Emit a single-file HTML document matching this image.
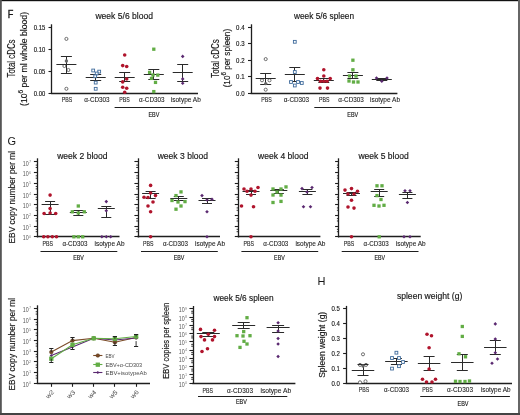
<!DOCTYPE html>
<html><head><meta charset="utf-8"><style>
html,body{margin:0;padding:0;background:#fff;width:520px;height:415px;overflow:hidden}
svg{display:block;font-family:"Liberation Sans",sans-serif;will-change:transform}
</style></head><body>
<svg width="520" height="415" viewBox="0 0 520 415">
<rect x="0" y="0" width="520" height="415" fill="white"/>
<text x="7.7" y="17.7" font-size="11.2" fill="#161616" text-anchor="start" stroke="#161616" stroke-width="0.4" textLength="5.6" lengthAdjust="spacingAndGlyphs">F</text>
<line x1="51.5" y1="24.3" x2="51.5" y2="93.9" stroke="#1e1e1e" stroke-width="1.3"/>
<line x1="51.15" y1="93.5" x2="198" y2="93.5" stroke="#1e1e1e" stroke-width="1.3"/>
<line x1="48.5" y1="27.5" x2="51.8" y2="27.5" stroke="#1e1e1e" stroke-width="1.1"/>
<text x="45.2" y="29.6" font-size="6.5" fill="#161616" text-anchor="end" stroke="#161616" stroke-width="0.15" textLength="11.4" lengthAdjust="spacingAndGlyphs">0.15</text>
<line x1="48.5" y1="49.5" x2="51.8" y2="49.5" stroke="#1e1e1e" stroke-width="1.1"/>
<text x="45.2" y="51.7" font-size="6.5" fill="#161616" text-anchor="end" stroke="#161616" stroke-width="0.15" textLength="11.4" lengthAdjust="spacingAndGlyphs">0.10</text>
<line x1="48.5" y1="71.5" x2="51.8" y2="71.5" stroke="#1e1e1e" stroke-width="1.1"/>
<text x="45.2" y="73.7" font-size="6.5" fill="#161616" text-anchor="end" stroke="#161616" stroke-width="0.15" textLength="11.4" lengthAdjust="spacingAndGlyphs">0.05</text>
<line x1="48.5" y1="93.5" x2="51.8" y2="93.5" stroke="#1e1e1e" stroke-width="1.1"/>
<text x="45.2" y="95.7" font-size="6.5" fill="#161616" text-anchor="end" stroke="#161616" stroke-width="0.15" textLength="11.4" lengthAdjust="spacingAndGlyphs">0.00</text>
<text x="124.2" y="18.9" font-size="9" fill="#161616" text-anchor="middle" stroke="#161616" stroke-width="0.16" textLength="57.6" lengthAdjust="spacingAndGlyphs">week 5/6 blood</text>
<text x="15.1" y="58.5" font-size="10" fill="#161616" text-anchor="middle" stroke="#161616" stroke-width="0.16" textLength="38" lengthAdjust="spacingAndGlyphs" transform="rotate(-90 15.1 58.5)">Total cDCs</text>
<text x="26.8" y="59" font-size="9.6" fill="#161616" text-anchor="middle" stroke="#161616" stroke-width="0.16" textLength="94" lengthAdjust="spacingAndGlyphs" transform="rotate(-90 26.8 59)">(10<tspan font-size="7.4" dy="-3.4">6</tspan><tspan dy="3.4"> per ml whole blood)</tspan></text>
<text x="67" y="101.8" font-size="7.2" fill="#222" text-anchor="middle" stroke="#222" stroke-width="0.1" textLength="10.5" lengthAdjust="spacingAndGlyphs">PBS</text>
<text x="96.9" y="101.8" font-size="7.2" fill="#222" text-anchor="middle" stroke="#222" stroke-width="0.1" textLength="25.5" lengthAdjust="spacingAndGlyphs">&#945;-CD303</text>
<text x="124.5" y="101.8" font-size="7.2" fill="#222" text-anchor="middle" stroke="#222" stroke-width="0.1" textLength="10.5" lengthAdjust="spacingAndGlyphs">PBS</text>
<text x="151.8" y="101.8" font-size="7.2" fill="#222" text-anchor="middle" stroke="#222" stroke-width="0.1" textLength="25.5" lengthAdjust="spacingAndGlyphs">&#945;-CD303</text>
<text x="185.8" y="101.8" font-size="7.2" fill="#222" text-anchor="middle" stroke="#222" stroke-width="0.1" textLength="30" lengthAdjust="spacingAndGlyphs">isotype Ab</text>
<line x1="114.6" y1="107.5" x2="192.3" y2="107.5" stroke="#1e1e1e" stroke-width="1.1"/>
<text x="153.9" y="116.8" font-size="7.4" fill="#161616" text-anchor="middle" stroke="#161616" stroke-width="0.16" textLength="10.9" lengthAdjust="spacingAndGlyphs">EBV</text>
<circle cx="66.4" cy="38.9" r="1.55" fill="white" stroke="#555555" stroke-width="0.85"/>
<circle cx="64.4" cy="66" r="1.55" fill="white" stroke="#555555" stroke-width="0.85"/>
<circle cx="68.4" cy="70" r="1.55" fill="white" stroke="#555555" stroke-width="0.85"/>
<circle cx="66.4" cy="88.8" r="1.55" fill="white" stroke="#555555" stroke-width="0.85"/>
<line x1="56.4" y1="64.5" x2="76.4" y2="64.5" stroke="#2a2a2a" stroke-width="1.0"/>
<line x1="60.9" y1="56.5" x2="71.9" y2="56.5" stroke="#2a2a2a" stroke-width="1.0"/>
<line x1="60.9" y1="73.5" x2="71.9" y2="73.5" stroke="#2a2a2a" stroke-width="1.0"/>
<line x1="66.5" y1="56.6" x2="66.5" y2="73.4" stroke="#2a2a2a" stroke-width="1.0"/>
<circle cx="66.4" cy="61" r="1.7" fill="#666" stroke="none" stroke-width="0"/>
<line x1="85.7" y1="77.5" x2="105.7" y2="77.5" stroke="#2a2a2a" stroke-width="1.0"/>
<line x1="90.2" y1="74.5" x2="101.2" y2="74.5" stroke="#2a2a2a" stroke-width="1.0"/>
<line x1="90.2" y1="80.5" x2="101.2" y2="80.5" stroke="#2a2a2a" stroke-width="1.0"/>
<line x1="95.5" y1="74.3" x2="95.5" y2="80.1" stroke="#2a2a2a" stroke-width="1.0"/>
<rect x="91.8" y="69.1" width="2.8" height="2.8" fill="white" stroke="#3f6b9c" stroke-width="0.9"/>
<rect x="97.8" y="70.2" width="2.8" height="2.8" fill="white" stroke="#3f6b9c" stroke-width="0.9"/>
<rect x="95.3" y="72.1" width="2.8" height="2.8" fill="white" stroke="#3f6b9c" stroke-width="0.9"/>
<rect x="93.8" y="74.9" width="2.8" height="2.8" fill="white" stroke="#3f6b9c" stroke-width="0.9"/>
<rect x="94.3" y="81.2" width="2.8" height="2.8" fill="white" stroke="#3f6b9c" stroke-width="0.9"/>
<rect x="94.3" y="87.4" width="2.8" height="2.8" fill="white" stroke="#3f6b9c" stroke-width="0.9"/>
<line x1="114.7" y1="77.5" x2="134.7" y2="77.5" stroke="#2a2a2a" stroke-width="1.0"/>
<line x1="119.2" y1="72.5" x2="130.2" y2="72.5" stroke="#2a2a2a" stroke-width="1.0"/>
<line x1="119.2" y1="81.5" x2="130.2" y2="81.5" stroke="#2a2a2a" stroke-width="1.0"/>
<line x1="124.5" y1="72.4" x2="124.5" y2="81.9" stroke="#2a2a2a" stroke-width="1.0"/>
<circle cx="124.7" cy="55" r="1.8" fill="#b0142c" stroke="none" stroke-width="0"/>
<circle cx="122.7" cy="65.6" r="1.8" fill="#b0142c" stroke="none" stroke-width="0"/>
<circle cx="126.7" cy="66.5" r="1.8" fill="#b0142c" stroke="none" stroke-width="0"/>
<circle cx="126.7" cy="79" r="1.8" fill="#b0142c" stroke="none" stroke-width="0"/>
<circle cx="122.7" cy="81.9" r="1.8" fill="#b0142c" stroke="none" stroke-width="0"/>
<circle cx="122.7" cy="87.2" r="1.8" fill="#b0142c" stroke="none" stroke-width="0"/>
<circle cx="126.7" cy="88.3" r="1.8" fill="#b0142c" stroke="none" stroke-width="0"/>
<circle cx="124.7" cy="92.2" r="1.8" fill="#b0142c" stroke="none" stroke-width="0"/>
<line x1="143.8" y1="74.5" x2="163.8" y2="74.5" stroke="#2a2a2a" stroke-width="1.0"/>
<line x1="148.3" y1="69.5" x2="159.3" y2="69.5" stroke="#2a2a2a" stroke-width="1.0"/>
<line x1="148.3" y1="79.5" x2="159.3" y2="79.5" stroke="#2a2a2a" stroke-width="1.0"/>
<line x1="153.5" y1="69.8" x2="153.5" y2="79.8" stroke="#2a2a2a" stroke-width="1.0"/>
<rect x="152.15" y="47.55" width="3.3" height="3.3" fill="#62ad45" stroke="none" stroke-width="0"/>
<rect x="147.95" y="70.75" width="3.3" height="3.3" fill="#62ad45" stroke="none" stroke-width="0"/>
<rect x="156.15" y="73.45" width="3.3" height="3.3" fill="#62ad45" stroke="none" stroke-width="0"/>
<rect x="151.35" y="73.35" width="3.3" height="3.3" fill="#62ad45" stroke="none" stroke-width="0"/>
<rect x="149.85" y="76.75" width="3.3" height="3.3" fill="#62ad45" stroke="none" stroke-width="0"/>
<rect x="153.85" y="80.75" width="3.3" height="3.3" fill="#62ad45" stroke="none" stroke-width="0"/>
<rect x="152.15" y="89.95" width="3.3" height="3.3" fill="#62ad45" stroke="none" stroke-width="0"/>
<line x1="172.7" y1="72.5" x2="192.7" y2="72.5" stroke="#2a2a2a" stroke-width="1.0"/>
<line x1="177.2" y1="64.5" x2="188.2" y2="64.5" stroke="#2a2a2a" stroke-width="1.0"/>
<line x1="177.2" y1="81.5" x2="188.2" y2="81.5" stroke="#2a2a2a" stroke-width="1.0"/>
<line x1="182.5" y1="64.6" x2="182.5" y2="81.2" stroke="#2a2a2a" stroke-width="1.0"/>
<path d="M182.7 54.6L184.5 56.4L182.7 58.2L180.9 56.4Z" fill="#5a2870"/>
<path d="M182.7 77.1L184.5 78.9L182.7 80.7L180.9 78.9Z" fill="#5a2870"/>
<path d="M182.7 81.5L184.5 83.3L182.7 85.1L180.9 83.3Z" fill="#5a2870"/>
<line x1="251.5" y1="24.3" x2="251.5" y2="93.9" stroke="#1e1e1e" stroke-width="1.3"/>
<line x1="250.65" y1="93.5" x2="397.4" y2="93.5" stroke="#1e1e1e" stroke-width="1.3"/>
<line x1="248" y1="27.5" x2="251.3" y2="27.5" stroke="#1e1e1e" stroke-width="1.1"/>
<text x="244.5" y="29.6" font-size="6.5" fill="#161616" text-anchor="end" stroke="#161616" stroke-width="0.15" textLength="8.4" lengthAdjust="spacingAndGlyphs">0.4</text>
<line x1="248" y1="43.5" x2="251.3" y2="43.5" stroke="#1e1e1e" stroke-width="1.1"/>
<text x="244.5" y="46.12" font-size="6.5" fill="#161616" text-anchor="end" stroke="#161616" stroke-width="0.15" textLength="8.4" lengthAdjust="spacingAndGlyphs">0.3</text>
<line x1="248" y1="60.5" x2="251.3" y2="60.5" stroke="#1e1e1e" stroke-width="1.1"/>
<text x="244.5" y="62.65" font-size="6.5" fill="#161616" text-anchor="end" stroke="#161616" stroke-width="0.15" textLength="8.4" lengthAdjust="spacingAndGlyphs">0.2</text>
<line x1="248" y1="76.5" x2="251.3" y2="76.5" stroke="#1e1e1e" stroke-width="1.1"/>
<text x="244.5" y="79.17" font-size="6.5" fill="#161616" text-anchor="end" stroke="#161616" stroke-width="0.15" textLength="8.4" lengthAdjust="spacingAndGlyphs">0.1</text>
<line x1="248" y1="93.5" x2="251.3" y2="93.5" stroke="#1e1e1e" stroke-width="1.1"/>
<text x="244.5" y="95.7" font-size="6.5" fill="#161616" text-anchor="end" stroke="#161616" stroke-width="0.15" textLength="8.4" lengthAdjust="spacingAndGlyphs">0.0</text>
<text x="324" y="18.9" font-size="9" fill="#161616" text-anchor="middle" stroke="#161616" stroke-width="0.16" textLength="60" lengthAdjust="spacingAndGlyphs">week 5/6 spleen</text>
<text x="218.5" y="58.5" font-size="10" fill="#161616" text-anchor="middle" stroke="#161616" stroke-width="0.16" textLength="38.3" lengthAdjust="spacingAndGlyphs" transform="rotate(-90 218.5 58.5)">Total cDCs</text>
<text x="229.9" y="58.1" font-size="9.6" fill="#161616" text-anchor="middle" stroke="#161616" stroke-width="0.16" textLength="58.5" lengthAdjust="spacingAndGlyphs" transform="rotate(-90 229.9 58.1)">(10<tspan font-size="7.4" dy="-3.4">6</tspan><tspan dy="3.4"> per spleen)</tspan></text>
<text x="266.4" y="101.8" font-size="7.2" fill="#222" text-anchor="middle" stroke="#222" stroke-width="0.1" textLength="10.5" lengthAdjust="spacingAndGlyphs">PBS</text>
<text x="296.4" y="101.8" font-size="7.2" fill="#222" text-anchor="middle" stroke="#222" stroke-width="0.1" textLength="25.5" lengthAdjust="spacingAndGlyphs">&#945;-CD303</text>
<text x="324.2" y="101.8" font-size="7.2" fill="#222" text-anchor="middle" stroke="#222" stroke-width="0.1" textLength="10.5" lengthAdjust="spacingAndGlyphs">PBS</text>
<text x="351.1" y="101.8" font-size="7.2" fill="#222" text-anchor="middle" stroke="#222" stroke-width="0.1" textLength="25.5" lengthAdjust="spacingAndGlyphs">&#945;-CD303</text>
<text x="385" y="101.8" font-size="7.2" fill="#222" text-anchor="middle" stroke="#222" stroke-width="0.1" textLength="30" lengthAdjust="spacingAndGlyphs">isotype Ab</text>
<line x1="314.3" y1="107.5" x2="391.7" y2="107.5" stroke="#1e1e1e" stroke-width="1.1"/>
<text x="352.8" y="116.8" font-size="7.4" fill="#161616" text-anchor="middle" stroke="#161616" stroke-width="0.16" textLength="10.9" lengthAdjust="spacingAndGlyphs">EBV</text>
<circle cx="265.7" cy="59.1" r="1.55" fill="white" stroke="#555555" stroke-width="0.85"/>
<circle cx="262" cy="80.3" r="1.55" fill="white" stroke="#555555" stroke-width="0.85"/>
<circle cx="269.5" cy="80.3" r="1.55" fill="white" stroke="#555555" stroke-width="0.85"/>
<circle cx="265.7" cy="89.7" r="1.55" fill="white" stroke="#555555" stroke-width="0.85"/>
<line x1="255.7" y1="78.5" x2="275.7" y2="78.5" stroke="#2a2a2a" stroke-width="1.0"/>
<line x1="260.2" y1="73.5" x2="271.2" y2="73.5" stroke="#2a2a2a" stroke-width="1.0"/>
<line x1="260.2" y1="84.5" x2="271.2" y2="84.5" stroke="#2a2a2a" stroke-width="1.0"/>
<line x1="265.5" y1="73.4" x2="265.5" y2="84.2" stroke="#2a2a2a" stroke-width="1.0"/>
<circle cx="265.7" cy="83.6" r="1.7" fill="#666" stroke="none" stroke-width="0"/>
<line x1="284.8" y1="74.5" x2="304.8" y2="74.5" stroke="#2a2a2a" stroke-width="1.0"/>
<line x1="289.3" y1="67.5" x2="300.3" y2="67.5" stroke="#2a2a2a" stroke-width="1.0"/>
<line x1="289.3" y1="81.5" x2="300.3" y2="81.5" stroke="#2a2a2a" stroke-width="1.0"/>
<line x1="294.5" y1="67.2" x2="294.5" y2="81.7" stroke="#2a2a2a" stroke-width="1.0"/>
<rect x="293.4" y="40.4" width="2.8" height="2.8" fill="white" stroke="#3f6b9c" stroke-width="0.9"/>
<rect x="293.4" y="70.6" width="2.8" height="2.8" fill="white" stroke="#3f6b9c" stroke-width="0.9"/>
<rect x="289.6" y="80.6" width="2.8" height="2.8" fill="white" stroke="#3f6b9c" stroke-width="0.9"/>
<rect x="296.6" y="80.6" width="2.8" height="2.8" fill="white" stroke="#3f6b9c" stroke-width="0.9"/>
<rect x="300.4" y="81.6" width="2.8" height="2.8" fill="white" stroke="#3f6b9c" stroke-width="0.9"/>
<rect x="293.4" y="84.1" width="2.8" height="2.8" fill="white" stroke="#3f6b9c" stroke-width="0.9"/>
<line x1="313.8" y1="80.5" x2="333.8" y2="80.5" stroke="#2a2a2a" stroke-width="1.0"/>
<line x1="318.3" y1="78.5" x2="329.3" y2="78.5" stroke="#2a2a2a" stroke-width="1.0"/>
<line x1="318.3" y1="82.5" x2="329.3" y2="82.5" stroke="#2a2a2a" stroke-width="1.0"/>
<line x1="323.5" y1="78.4" x2="323.5" y2="82.4" stroke="#2a2a2a" stroke-width="1.0"/>
<circle cx="323.8" cy="69.8" r="1.8" fill="#b0142c" stroke="none" stroke-width="0"/>
<circle cx="323.8" cy="76" r="1.8" fill="#b0142c" stroke="none" stroke-width="0"/>
<circle cx="317.5" cy="78.6" r="1.8" fill="#b0142c" stroke="none" stroke-width="0"/>
<circle cx="330.2" cy="78.6" r="1.8" fill="#b0142c" stroke="none" stroke-width="0"/>
<circle cx="320.5" cy="81.2" r="1.8" fill="#b0142c" stroke="none" stroke-width="0"/>
<circle cx="327" cy="81.2" r="1.8" fill="#b0142c" stroke="none" stroke-width="0"/>
<circle cx="323.8" cy="81.2" r="1.8" fill="#b0142c" stroke="none" stroke-width="0"/>
<circle cx="320" cy="88.1" r="1.8" fill="#b0142c" stroke="none" stroke-width="0"/>
<circle cx="327.5" cy="88.1" r="1.8" fill="#b0142c" stroke="none" stroke-width="0"/>
<line x1="342.9" y1="75.5" x2="362.9" y2="75.5" stroke="#2a2a2a" stroke-width="1.0"/>
<line x1="347.4" y1="72.5" x2="358.4" y2="72.5" stroke="#2a2a2a" stroke-width="1.0"/>
<line x1="347.4" y1="78.5" x2="358.4" y2="78.5" stroke="#2a2a2a" stroke-width="1.0"/>
<line x1="352.5" y1="72.4" x2="352.5" y2="78.4" stroke="#2a2a2a" stroke-width="1.0"/>
<rect x="351.25" y="58.55" width="3.3" height="3.3" fill="#62ad45" stroke="none" stroke-width="0"/>
<rect x="351.25" y="68.15" width="3.3" height="3.3" fill="#62ad45" stroke="none" stroke-width="0"/>
<rect x="347.85" y="74.35" width="3.3" height="3.3" fill="#62ad45" stroke="none" stroke-width="0"/>
<rect x="354.35" y="74.35" width="3.3" height="3.3" fill="#62ad45" stroke="none" stroke-width="0"/>
<rect x="347.35" y="79.35" width="3.3" height="3.3" fill="#62ad45" stroke="none" stroke-width="0"/>
<rect x="351.85" y="80.35" width="3.3" height="3.3" fill="#62ad45" stroke="none" stroke-width="0"/>
<rect x="356.35" y="80.35" width="3.3" height="3.3" fill="#62ad45" stroke="none" stroke-width="0"/>
<line x1="371.8" y1="79.5" x2="391.8" y2="79.5" stroke="#2a2a2a" stroke-width="1.0"/>
<line x1="376.3" y1="78.5" x2="387.3" y2="78.5" stroke="#2a2a2a" stroke-width="1.0"/>
<line x1="376.3" y1="80.5" x2="387.3" y2="80.5" stroke="#2a2a2a" stroke-width="1.0"/>
<line x1="381.5" y1="78.3" x2="381.5" y2="80.3" stroke="#2a2a2a" stroke-width="1.0"/>
<path d="M376.5 76.2L378.3 78L376.5 79.8L374.7 78Z" fill="#5a2870"/>
<path d="M381.8 79.4L383.6 81.2L381.8 83L380 81.2Z" fill="#5a2870"/>
<path d="M387 76.2L388.8 78L387 79.8L385.2 78Z" fill="#5a2870"/>
<text x="7.6" y="144.8" font-size="11" fill="#161616" text-anchor="start">G</text>
<line x1="37.5" y1="158.3" x2="37.5" y2="237.4" stroke="#1e1e1e" stroke-width="1.3"/>
<line x1="33.9" y1="161.5" x2="37.5" y2="161.5" stroke="#1e1e1e" stroke-width="1.1"/>
<text x="22.7" y="165.5" font-size="6.6" fill="#555" textLength="5.9" lengthAdjust="spacingAndGlyphs">10</text>
<text x="28.9" y="162.8" font-size="3.8" fill="#888">7</text>
<line x1="35.7" y1="167.49" x2="37.8" y2="167.49" stroke="#1e1e1e" stroke-width="0.9"/>
<line x1="35.7" y1="165.12" x2="37.8" y2="165.12" stroke="#1e1e1e" stroke-width="0.9"/>
<line x1="33.9" y1="172.5" x2="37.5" y2="172.5" stroke="#1e1e1e" stroke-width="1.1"/>
<text x="22.7" y="176.2" font-size="6.6" fill="#555" textLength="5.9" lengthAdjust="spacingAndGlyphs">10</text>
<text x="28.9" y="173.5" font-size="3.8" fill="#888">6</text>
<line x1="35.7" y1="178.19" x2="37.8" y2="178.19" stroke="#1e1e1e" stroke-width="0.9"/>
<line x1="35.7" y1="175.82" x2="37.8" y2="175.82" stroke="#1e1e1e" stroke-width="0.9"/>
<line x1="33.9" y1="183.5" x2="37.5" y2="183.5" stroke="#1e1e1e" stroke-width="1.1"/>
<text x="22.7" y="186.9" font-size="6.6" fill="#555" textLength="5.9" lengthAdjust="spacingAndGlyphs">10</text>
<text x="28.9" y="184.2" font-size="3.8" fill="#888">5</text>
<line x1="35.7" y1="188.89" x2="37.8" y2="188.89" stroke="#1e1e1e" stroke-width="0.9"/>
<line x1="35.7" y1="186.52" x2="37.8" y2="186.52" stroke="#1e1e1e" stroke-width="0.9"/>
<line x1="33.9" y1="194.5" x2="37.5" y2="194.5" stroke="#1e1e1e" stroke-width="1.1"/>
<text x="22.7" y="197.6" font-size="6.6" fill="#555" textLength="5.9" lengthAdjust="spacingAndGlyphs">10</text>
<text x="28.9" y="194.9" font-size="3.8" fill="#888">4</text>
<line x1="35.7" y1="199.59" x2="37.8" y2="199.59" stroke="#1e1e1e" stroke-width="0.9"/>
<line x1="35.7" y1="197.22" x2="37.8" y2="197.22" stroke="#1e1e1e" stroke-width="0.9"/>
<line x1="33.9" y1="204.5" x2="37.5" y2="204.5" stroke="#1e1e1e" stroke-width="1.1"/>
<text x="22.7" y="208.3" font-size="6.6" fill="#555" textLength="5.9" lengthAdjust="spacingAndGlyphs">10</text>
<text x="28.9" y="205.6" font-size="3.8" fill="#888">3</text>
<line x1="35.7" y1="210.29" x2="37.8" y2="210.29" stroke="#1e1e1e" stroke-width="0.9"/>
<line x1="35.7" y1="207.92" x2="37.8" y2="207.92" stroke="#1e1e1e" stroke-width="0.9"/>
<line x1="33.9" y1="215.5" x2="37.5" y2="215.5" stroke="#1e1e1e" stroke-width="1.1"/>
<text x="22.7" y="219" font-size="6.6" fill="#555" textLength="5.9" lengthAdjust="spacingAndGlyphs">10</text>
<text x="28.9" y="216.3" font-size="3.8" fill="#888">2</text>
<line x1="35.7" y1="220.99" x2="37.8" y2="220.99" stroke="#1e1e1e" stroke-width="0.9"/>
<line x1="35.7" y1="218.62" x2="37.8" y2="218.62" stroke="#1e1e1e" stroke-width="0.9"/>
<line x1="33.9" y1="226.5" x2="37.5" y2="226.5" stroke="#1e1e1e" stroke-width="1.1"/>
<text x="22.7" y="229.7" font-size="6.6" fill="#555" textLength="5.9" lengthAdjust="spacingAndGlyphs">10</text>
<text x="28.9" y="227" font-size="3.8" fill="#888">1</text>
<line x1="35.7" y1="231.69" x2="37.8" y2="231.69" stroke="#1e1e1e" stroke-width="0.9"/>
<line x1="35.7" y1="229.32" x2="37.8" y2="229.32" stroke="#1e1e1e" stroke-width="0.9"/>
<line x1="33.9" y1="236.5" x2="37.5" y2="236.5" stroke="#1e1e1e" stroke-width="1.1"/>
<text x="22.7" y="240.4" font-size="6.6" fill="#555" textLength="5.9" lengthAdjust="spacingAndGlyphs">10</text>
<text x="28.9" y="237.7" font-size="3.8" fill="#888">0</text>
<line x1="36.85" y1="236.5" x2="119.5" y2="236.5" stroke="#1e1e1e" stroke-width="1.3"/>
<text x="82.4" y="158.7" font-size="9" fill="#161616" text-anchor="middle" stroke="#161616" stroke-width="0.16" textLength="50.4" lengthAdjust="spacingAndGlyphs">week 2 blood</text>
<text x="47.8" y="246.3" font-size="7.2" fill="#222" text-anchor="middle" stroke="#222" stroke-width="0.1" textLength="10.5" lengthAdjust="spacingAndGlyphs">PBS</text>
<text x="74.9" y="246.3" font-size="7.2" fill="#222" text-anchor="middle" stroke="#222" stroke-width="0.1" textLength="25" lengthAdjust="spacingAndGlyphs">&#945;-CD303</text>
<text x="109.5" y="246.3" font-size="7.2" fill="#222" text-anchor="middle" stroke="#222" stroke-width="0.1" textLength="30" lengthAdjust="spacingAndGlyphs">isotype Ab</text>
<line x1="40.5" y1="251.5" x2="117.3" y2="251.5" stroke="#1e1e1e" stroke-width="1.1"/>
<text x="78.5" y="259.8" font-size="7.4" fill="#161616" text-anchor="middle" stroke="#161616" stroke-width="0.16" textLength="10.6" lengthAdjust="spacingAndGlyphs">EBV</text>
<line x1="41.6" y1="204.5" x2="58.6" y2="204.5" stroke="#2a2a2a" stroke-width="1.0"/>
<line x1="45.1" y1="201.5" x2="55.1" y2="201.5" stroke="#2a2a2a" stroke-width="1.0"/>
<line x1="45.1" y1="214.5" x2="55.1" y2="214.5" stroke="#2a2a2a" stroke-width="1.0"/>
<line x1="50.5" y1="201.6" x2="50.5" y2="214.6" stroke="#2a2a2a" stroke-width="1.0"/>
<circle cx="50.1" cy="195.1" r="1.8" fill="#b0142c" stroke="none" stroke-width="0"/>
<circle cx="50.1" cy="208.6" r="1.8" fill="#b0142c" stroke="none" stroke-width="0"/>
<circle cx="44.1" cy="213.5" r="1.8" fill="#b0142c" stroke="none" stroke-width="0"/>
<circle cx="55.7" cy="213.5" r="1.8" fill="#b0142c" stroke="none" stroke-width="0"/>
<circle cx="50.1" cy="213" r="1.8" fill="#b0142c" stroke="none" stroke-width="0"/>
<circle cx="43.7" cy="236.8" r="1.8" fill="#b0142c" stroke="none" stroke-width="0"/>
<circle cx="47.9" cy="236.8" r="1.8" fill="#b0142c" stroke="none" stroke-width="0"/>
<circle cx="52.3" cy="236.8" r="1.8" fill="#b0142c" stroke="none" stroke-width="0"/>
<circle cx="56.5" cy="236.8" r="1.8" fill="#b0142c" stroke="none" stroke-width="0"/>
<line x1="69.8" y1="212.5" x2="86.8" y2="212.5" stroke="#2a2a2a" stroke-width="1.0"/>
<line x1="73.3" y1="210.5" x2="83.3" y2="210.5" stroke="#2a2a2a" stroke-width="1.0"/>
<line x1="73.3" y1="215.5" x2="83.3" y2="215.5" stroke="#2a2a2a" stroke-width="1.0"/>
<line x1="78.5" y1="210.7" x2="78.5" y2="215.7" stroke="#2a2a2a" stroke-width="1.0"/>
<rect x="76.65" y="204.35" width="3.3" height="3.3" fill="#62ad45" stroke="none" stroke-width="0"/>
<rect x="70.65" y="210.15" width="3.3" height="3.3" fill="#62ad45" stroke="none" stroke-width="0"/>
<rect x="82.65" y="210.15" width="3.3" height="3.3" fill="#62ad45" stroke="none" stroke-width="0"/>
<rect x="76.65" y="211.35" width="3.3" height="3.3" fill="#62ad45" stroke="none" stroke-width="0"/>
<rect x="72.25" y="235.15" width="3.3" height="3.3" fill="#62ad45" stroke="none" stroke-width="0"/>
<rect x="76.65" y="235.15" width="3.3" height="3.3" fill="#62ad45" stroke="none" stroke-width="0"/>
<rect x="81.05" y="235.15" width="3.3" height="3.3" fill="#62ad45" stroke="none" stroke-width="0"/>
<line x1="97.8" y1="208.5" x2="114.8" y2="208.5" stroke="#2a2a2a" stroke-width="1.0"/>
<line x1="101.3" y1="206.5" x2="111.3" y2="206.5" stroke="#2a2a2a" stroke-width="1.0"/>
<line x1="101.3" y1="217.5" x2="111.3" y2="217.5" stroke="#2a2a2a" stroke-width="1.0"/>
<line x1="106.5" y1="206.4" x2="106.5" y2="217.9" stroke="#2a2a2a" stroke-width="1.0"/>
<path d="M106.3 199.8L108.1 201.6L106.3 203.4L104.5 201.6Z" fill="#5a2870"/>
<path d="M106.3 208.9L108.1 210.7L106.3 212.5L104.5 210.7Z" fill="#5a2870"/>
<path d="M101.9 235L103.7 236.8L101.9 238.6L100.1 236.8Z" fill="#5a2870"/>
<path d="M106.3 235L108.1 236.8L106.3 238.6L104.5 236.8Z" fill="#5a2870"/>
<path d="M110.7 235L112.5 236.8L110.7 238.6L108.9 236.8Z" fill="#5a2870"/>
<text x="14.6" y="197.2" font-size="9.2" fill="#161616" text-anchor="middle" stroke="#161616" stroke-width="0.16" textLength="92.5" lengthAdjust="spacingAndGlyphs" transform="rotate(-90 14.6 197.2)">EBV copy number per ml</text>
<line x1="138.5" y1="158.3" x2="138.5" y2="237.4" stroke="#1e1e1e" stroke-width="1.3"/>
<line x1="134.4" y1="161.5" x2="138" y2="161.5" stroke="#1e1e1e" stroke-width="1.1"/>
<line x1="136.2" y1="167.49" x2="138.3" y2="167.49" stroke="#1e1e1e" stroke-width="0.9"/>
<line x1="136.2" y1="165.12" x2="138.3" y2="165.12" stroke="#1e1e1e" stroke-width="0.9"/>
<line x1="134.4" y1="172.5" x2="138" y2="172.5" stroke="#1e1e1e" stroke-width="1.1"/>
<line x1="136.2" y1="178.19" x2="138.3" y2="178.19" stroke="#1e1e1e" stroke-width="0.9"/>
<line x1="136.2" y1="175.82" x2="138.3" y2="175.82" stroke="#1e1e1e" stroke-width="0.9"/>
<line x1="134.4" y1="183.5" x2="138" y2="183.5" stroke="#1e1e1e" stroke-width="1.1"/>
<line x1="136.2" y1="188.89" x2="138.3" y2="188.89" stroke="#1e1e1e" stroke-width="0.9"/>
<line x1="136.2" y1="186.52" x2="138.3" y2="186.52" stroke="#1e1e1e" stroke-width="0.9"/>
<line x1="134.4" y1="194.5" x2="138" y2="194.5" stroke="#1e1e1e" stroke-width="1.1"/>
<line x1="136.2" y1="199.59" x2="138.3" y2="199.59" stroke="#1e1e1e" stroke-width="0.9"/>
<line x1="136.2" y1="197.22" x2="138.3" y2="197.22" stroke="#1e1e1e" stroke-width="0.9"/>
<line x1="134.4" y1="204.5" x2="138" y2="204.5" stroke="#1e1e1e" stroke-width="1.1"/>
<line x1="136.2" y1="210.29" x2="138.3" y2="210.29" stroke="#1e1e1e" stroke-width="0.9"/>
<line x1="136.2" y1="207.92" x2="138.3" y2="207.92" stroke="#1e1e1e" stroke-width="0.9"/>
<line x1="134.4" y1="215.5" x2="138" y2="215.5" stroke="#1e1e1e" stroke-width="1.1"/>
<line x1="136.2" y1="220.99" x2="138.3" y2="220.99" stroke="#1e1e1e" stroke-width="0.9"/>
<line x1="136.2" y1="218.62" x2="138.3" y2="218.62" stroke="#1e1e1e" stroke-width="0.9"/>
<line x1="134.4" y1="226.5" x2="138" y2="226.5" stroke="#1e1e1e" stroke-width="1.1"/>
<line x1="136.2" y1="231.69" x2="138.3" y2="231.69" stroke="#1e1e1e" stroke-width="0.9"/>
<line x1="136.2" y1="229.32" x2="138.3" y2="229.32" stroke="#1e1e1e" stroke-width="0.9"/>
<line x1="134.4" y1="236.5" x2="138" y2="236.5" stroke="#1e1e1e" stroke-width="1.1"/>
<line x1="137.35" y1="236.5" x2="220" y2="236.5" stroke="#1e1e1e" stroke-width="1.3"/>
<text x="182.9" y="158.7" font-size="9" fill="#161616" text-anchor="middle" stroke="#161616" stroke-width="0.16" textLength="50.4" lengthAdjust="spacingAndGlyphs">week 3 blood</text>
<text x="148.3" y="246.3" font-size="7.2" fill="#222" text-anchor="middle" stroke="#222" stroke-width="0.1" textLength="10.5" lengthAdjust="spacingAndGlyphs">PBS</text>
<text x="175.4" y="246.3" font-size="7.2" fill="#222" text-anchor="middle" stroke="#222" stroke-width="0.1" textLength="25" lengthAdjust="spacingAndGlyphs">&#945;-CD303</text>
<text x="210" y="246.3" font-size="7.2" fill="#222" text-anchor="middle" stroke="#222" stroke-width="0.1" textLength="30" lengthAdjust="spacingAndGlyphs">isotype Ab</text>
<line x1="141" y1="251.5" x2="217.8" y2="251.5" stroke="#1e1e1e" stroke-width="1.1"/>
<text x="179" y="259.8" font-size="7.4" fill="#161616" text-anchor="middle" stroke="#161616" stroke-width="0.16" textLength="10.6" lengthAdjust="spacingAndGlyphs">EBV</text>
<line x1="142.1" y1="193.5" x2="159.1" y2="193.5" stroke="#2a2a2a" stroke-width="1.0"/>
<line x1="145.6" y1="191.5" x2="155.6" y2="191.5" stroke="#2a2a2a" stroke-width="1.0"/>
<line x1="145.6" y1="198.5" x2="155.6" y2="198.5" stroke="#2a2a2a" stroke-width="1.0"/>
<line x1="150.5" y1="191.2" x2="150.5" y2="198.2" stroke="#2a2a2a" stroke-width="1.0"/>
<circle cx="150.6" cy="185.4" r="1.8" fill="#b0142c" stroke="none" stroke-width="0"/>
<circle cx="150.6" cy="193" r="1.8" fill="#b0142c" stroke="none" stroke-width="0"/>
<circle cx="144" cy="197.3" r="1.8" fill="#b0142c" stroke="none" stroke-width="0"/>
<circle cx="155.5" cy="195.6" r="1.8" fill="#b0142c" stroke="none" stroke-width="0"/>
<circle cx="148" cy="197.5" r="1.8" fill="#b0142c" stroke="none" stroke-width="0"/>
<circle cx="153" cy="202" r="1.8" fill="#b0142c" stroke="none" stroke-width="0"/>
<circle cx="148" cy="206" r="1.8" fill="#b0142c" stroke="none" stroke-width="0"/>
<circle cx="150.6" cy="211.8" r="1.8" fill="#b0142c" stroke="none" stroke-width="0"/>
<circle cx="150.6" cy="236.8" r="1.8" fill="#b0142c" stroke="none" stroke-width="0"/>
<line x1="170.3" y1="198.5" x2="187.3" y2="198.5" stroke="#2a2a2a" stroke-width="1.0"/>
<line x1="173.8" y1="196.5" x2="183.8" y2="196.5" stroke="#2a2a2a" stroke-width="1.0"/>
<line x1="173.8" y1="200.5" x2="183.8" y2="200.5" stroke="#2a2a2a" stroke-width="1.0"/>
<line x1="178.5" y1="196.2" x2="178.5" y2="200.5" stroke="#2a2a2a" stroke-width="1.0"/>
<rect x="179.35" y="190.25" width="3.3" height="3.3" fill="#62ad45" stroke="none" stroke-width="0"/>
<rect x="174.35" y="193.95" width="3.3" height="3.3" fill="#62ad45" stroke="none" stroke-width="0"/>
<rect x="170.35" y="198.85" width="3.3" height="3.3" fill="#62ad45" stroke="none" stroke-width="0"/>
<rect x="183.35" y="199.95" width="3.3" height="3.3" fill="#62ad45" stroke="none" stroke-width="0"/>
<rect x="176.35" y="200.35" width="3.3" height="3.3" fill="#62ad45" stroke="none" stroke-width="0"/>
<rect x="179.35" y="204.35" width="3.3" height="3.3" fill="#62ad45" stroke="none" stroke-width="0"/>
<rect x="174.35" y="207.55" width="3.3" height="3.3" fill="#62ad45" stroke="none" stroke-width="0"/>
<line x1="198.5" y1="200.5" x2="215.5" y2="200.5" stroke="#2a2a2a" stroke-width="1.0"/>
<line x1="202" y1="198.5" x2="212" y2="198.5" stroke="#2a2a2a" stroke-width="1.0"/>
<line x1="202" y1="203.5" x2="212" y2="203.5" stroke="#2a2a2a" stroke-width="1.0"/>
<line x1="207.5" y1="198.4" x2="207.5" y2="203.1" stroke="#2a2a2a" stroke-width="1.0"/>
<path d="M202 193.8L203.8 195.6L202 197.4L200.2 195.6Z" fill="#5a2870"/>
<path d="M212 197.4L213.8 199.2L212 201L210.2 199.2Z" fill="#5a2870"/>
<path d="M207 198.2L208.8 200L207 201.8L205.2 200Z" fill="#5a2870"/>
<path d="M207 210L208.8 211.8L207 213.6L205.2 211.8Z" fill="#5a2870"/>
<path d="M207 235L208.8 236.8L207 238.6L205.2 236.8Z" fill="#5a2870"/>
<line x1="238.5" y1="158.3" x2="238.5" y2="237.4" stroke="#1e1e1e" stroke-width="1.3"/>
<line x1="234.8" y1="161.5" x2="238.4" y2="161.5" stroke="#1e1e1e" stroke-width="1.1"/>
<line x1="236.6" y1="167.49" x2="238.7" y2="167.49" stroke="#1e1e1e" stroke-width="0.9"/>
<line x1="236.6" y1="165.12" x2="238.7" y2="165.12" stroke="#1e1e1e" stroke-width="0.9"/>
<line x1="234.8" y1="172.5" x2="238.4" y2="172.5" stroke="#1e1e1e" stroke-width="1.1"/>
<line x1="236.6" y1="178.19" x2="238.7" y2="178.19" stroke="#1e1e1e" stroke-width="0.9"/>
<line x1="236.6" y1="175.82" x2="238.7" y2="175.82" stroke="#1e1e1e" stroke-width="0.9"/>
<line x1="234.8" y1="183.5" x2="238.4" y2="183.5" stroke="#1e1e1e" stroke-width="1.1"/>
<line x1="236.6" y1="188.89" x2="238.7" y2="188.89" stroke="#1e1e1e" stroke-width="0.9"/>
<line x1="236.6" y1="186.52" x2="238.7" y2="186.52" stroke="#1e1e1e" stroke-width="0.9"/>
<line x1="234.8" y1="194.5" x2="238.4" y2="194.5" stroke="#1e1e1e" stroke-width="1.1"/>
<line x1="236.6" y1="199.59" x2="238.7" y2="199.59" stroke="#1e1e1e" stroke-width="0.9"/>
<line x1="236.6" y1="197.22" x2="238.7" y2="197.22" stroke="#1e1e1e" stroke-width="0.9"/>
<line x1="234.8" y1="204.5" x2="238.4" y2="204.5" stroke="#1e1e1e" stroke-width="1.1"/>
<line x1="236.6" y1="210.29" x2="238.7" y2="210.29" stroke="#1e1e1e" stroke-width="0.9"/>
<line x1="236.6" y1="207.92" x2="238.7" y2="207.92" stroke="#1e1e1e" stroke-width="0.9"/>
<line x1="234.8" y1="215.5" x2="238.4" y2="215.5" stroke="#1e1e1e" stroke-width="1.1"/>
<line x1="236.6" y1="220.99" x2="238.7" y2="220.99" stroke="#1e1e1e" stroke-width="0.9"/>
<line x1="236.6" y1="218.62" x2="238.7" y2="218.62" stroke="#1e1e1e" stroke-width="0.9"/>
<line x1="234.8" y1="226.5" x2="238.4" y2="226.5" stroke="#1e1e1e" stroke-width="1.1"/>
<line x1="236.6" y1="231.69" x2="238.7" y2="231.69" stroke="#1e1e1e" stroke-width="0.9"/>
<line x1="236.6" y1="229.32" x2="238.7" y2="229.32" stroke="#1e1e1e" stroke-width="0.9"/>
<line x1="234.8" y1="236.5" x2="238.4" y2="236.5" stroke="#1e1e1e" stroke-width="1.1"/>
<line x1="237.75" y1="236.5" x2="320.4" y2="236.5" stroke="#1e1e1e" stroke-width="1.3"/>
<text x="283.3" y="158.7" font-size="9" fill="#161616" text-anchor="middle" stroke="#161616" stroke-width="0.16" textLength="50.4" lengthAdjust="spacingAndGlyphs">week 4 blood</text>
<text x="248.7" y="246.3" font-size="7.2" fill="#222" text-anchor="middle" stroke="#222" stroke-width="0.1" textLength="10.5" lengthAdjust="spacingAndGlyphs">PBS</text>
<text x="275.8" y="246.3" font-size="7.2" fill="#222" text-anchor="middle" stroke="#222" stroke-width="0.1" textLength="25" lengthAdjust="spacingAndGlyphs">&#945;-CD303</text>
<text x="310.4" y="246.3" font-size="7.2" fill="#222" text-anchor="middle" stroke="#222" stroke-width="0.1" textLength="30" lengthAdjust="spacingAndGlyphs">isotype Ab</text>
<line x1="241.4" y1="251.5" x2="318.2" y2="251.5" stroke="#1e1e1e" stroke-width="1.1"/>
<text x="279.4" y="259.8" font-size="7.4" fill="#161616" text-anchor="middle" stroke="#161616" stroke-width="0.16" textLength="10.6" lengthAdjust="spacingAndGlyphs">EBV</text>
<line x1="242.5" y1="191.5" x2="259.5" y2="191.5" stroke="#2a2a2a" stroke-width="1.0"/>
<line x1="246" y1="190.5" x2="256" y2="190.5" stroke="#2a2a2a" stroke-width="1.0"/>
<line x1="246" y1="194.5" x2="256" y2="194.5" stroke="#2a2a2a" stroke-width="1.0"/>
<line x1="251.5" y1="190" x2="251.5" y2="194" stroke="#2a2a2a" stroke-width="1.0"/>
<circle cx="244" cy="189" r="1.8" fill="#b0142c" stroke="none" stroke-width="0"/>
<circle cx="251" cy="189" r="1.8" fill="#b0142c" stroke="none" stroke-width="0"/>
<circle cx="258" cy="187.5" r="1.8" fill="#b0142c" stroke="none" stroke-width="0"/>
<circle cx="247" cy="191.2" r="1.8" fill="#b0142c" stroke="none" stroke-width="0"/>
<circle cx="255" cy="191.2" r="1.8" fill="#b0142c" stroke="none" stroke-width="0"/>
<circle cx="251" cy="195.1" r="1.8" fill="#b0142c" stroke="none" stroke-width="0"/>
<circle cx="241.5" cy="206" r="1.8" fill="#b0142c" stroke="none" stroke-width="0"/>
<circle cx="253.5" cy="206.8" r="1.8" fill="#b0142c" stroke="none" stroke-width="0"/>
<circle cx="251" cy="236.8" r="1.8" fill="#b0142c" stroke="none" stroke-width="0"/>
<line x1="270.3" y1="190.5" x2="287.3" y2="190.5" stroke="#2a2a2a" stroke-width="1.0"/>
<line x1="273.8" y1="189.5" x2="283.8" y2="189.5" stroke="#2a2a2a" stroke-width="1.0"/>
<line x1="273.8" y1="193.5" x2="283.8" y2="193.5" stroke="#2a2a2a" stroke-width="1.0"/>
<line x1="278.5" y1="189" x2="278.5" y2="193" stroke="#2a2a2a" stroke-width="1.0"/>
<rect x="284.35" y="185.25" width="3.3" height="3.3" fill="#62ad45" stroke="none" stroke-width="0"/>
<rect x="271.35" y="187.35" width="3.3" height="3.3" fill="#62ad45" stroke="none" stroke-width="0"/>
<rect x="279.35" y="187.35" width="3.3" height="3.3" fill="#62ad45" stroke="none" stroke-width="0"/>
<rect x="275.35" y="190.35" width="3.3" height="3.3" fill="#62ad45" stroke="none" stroke-width="0"/>
<rect x="271.35" y="193.35" width="3.3" height="3.3" fill="#62ad45" stroke="none" stroke-width="0"/>
<rect x="279.35" y="193.45" width="3.3" height="3.3" fill="#62ad45" stroke="none" stroke-width="0"/>
<rect x="271.35" y="200.85" width="3.3" height="3.3" fill="#62ad45" stroke="none" stroke-width="0"/>
<rect x="279.35" y="199.75" width="3.3" height="3.3" fill="#62ad45" stroke="none" stroke-width="0"/>
<line x1="298.9" y1="191.5" x2="315.9" y2="191.5" stroke="#2a2a2a" stroke-width="1.0"/>
<line x1="302.4" y1="189.5" x2="312.4" y2="189.5" stroke="#2a2a2a" stroke-width="1.0"/>
<line x1="302.4" y1="194.5" x2="312.4" y2="194.5" stroke="#2a2a2a" stroke-width="1.0"/>
<line x1="307.5" y1="189" x2="307.5" y2="194" stroke="#2a2a2a" stroke-width="1.0"/>
<path d="M302 186.8L303.8 188.6L302 190.4L300.2 188.6Z" fill="#5a2870"/>
<path d="M312 185.7L313.8 187.5L312 189.3L310.2 187.5Z" fill="#5a2870"/>
<path d="M307 190.2L308.8 192L307 193.8L305.2 192Z" fill="#5a2870"/>
<path d="M303.5 205L305.3 206.8L303.5 208.6L301.7 206.8Z" fill="#5a2870"/>
<path d="M310.5 205L312.3 206.8L310.5 208.6L308.7 206.8Z" fill="#5a2870"/>
<line x1="338.5" y1="158.3" x2="338.5" y2="237.4" stroke="#1e1e1e" stroke-width="1.3"/>
<line x1="335.1" y1="161.5" x2="338.7" y2="161.5" stroke="#1e1e1e" stroke-width="1.1"/>
<line x1="336.9" y1="167.49" x2="339" y2="167.49" stroke="#1e1e1e" stroke-width="0.9"/>
<line x1="336.9" y1="165.12" x2="339" y2="165.12" stroke="#1e1e1e" stroke-width="0.9"/>
<line x1="335.1" y1="172.5" x2="338.7" y2="172.5" stroke="#1e1e1e" stroke-width="1.1"/>
<line x1="336.9" y1="178.19" x2="339" y2="178.19" stroke="#1e1e1e" stroke-width="0.9"/>
<line x1="336.9" y1="175.82" x2="339" y2="175.82" stroke="#1e1e1e" stroke-width="0.9"/>
<line x1="335.1" y1="183.5" x2="338.7" y2="183.5" stroke="#1e1e1e" stroke-width="1.1"/>
<line x1="336.9" y1="188.89" x2="339" y2="188.89" stroke="#1e1e1e" stroke-width="0.9"/>
<line x1="336.9" y1="186.52" x2="339" y2="186.52" stroke="#1e1e1e" stroke-width="0.9"/>
<line x1="335.1" y1="194.5" x2="338.7" y2="194.5" stroke="#1e1e1e" stroke-width="1.1"/>
<line x1="336.9" y1="199.59" x2="339" y2="199.59" stroke="#1e1e1e" stroke-width="0.9"/>
<line x1="336.9" y1="197.22" x2="339" y2="197.22" stroke="#1e1e1e" stroke-width="0.9"/>
<line x1="335.1" y1="204.5" x2="338.7" y2="204.5" stroke="#1e1e1e" stroke-width="1.1"/>
<line x1="336.9" y1="210.29" x2="339" y2="210.29" stroke="#1e1e1e" stroke-width="0.9"/>
<line x1="336.9" y1="207.92" x2="339" y2="207.92" stroke="#1e1e1e" stroke-width="0.9"/>
<line x1="335.1" y1="215.5" x2="338.7" y2="215.5" stroke="#1e1e1e" stroke-width="1.1"/>
<line x1="336.9" y1="220.99" x2="339" y2="220.99" stroke="#1e1e1e" stroke-width="0.9"/>
<line x1="336.9" y1="218.62" x2="339" y2="218.62" stroke="#1e1e1e" stroke-width="0.9"/>
<line x1="335.1" y1="226.5" x2="338.7" y2="226.5" stroke="#1e1e1e" stroke-width="1.1"/>
<line x1="336.9" y1="231.69" x2="339" y2="231.69" stroke="#1e1e1e" stroke-width="0.9"/>
<line x1="336.9" y1="229.32" x2="339" y2="229.32" stroke="#1e1e1e" stroke-width="0.9"/>
<line x1="335.1" y1="236.5" x2="338.7" y2="236.5" stroke="#1e1e1e" stroke-width="1.1"/>
<line x1="338.05" y1="236.5" x2="420.7" y2="236.5" stroke="#1e1e1e" stroke-width="1.3"/>
<text x="383.6" y="158.7" font-size="9" fill="#161616" text-anchor="middle" stroke="#161616" stroke-width="0.16" textLength="50.4" lengthAdjust="spacingAndGlyphs">week 5 blood</text>
<text x="349" y="246.3" font-size="7.2" fill="#222" text-anchor="middle" stroke="#222" stroke-width="0.1" textLength="10.5" lengthAdjust="spacingAndGlyphs">PBS</text>
<text x="376.1" y="246.3" font-size="7.2" fill="#222" text-anchor="middle" stroke="#222" stroke-width="0.1" textLength="25" lengthAdjust="spacingAndGlyphs">&#945;-CD303</text>
<text x="410.7" y="246.3" font-size="7.2" fill="#222" text-anchor="middle" stroke="#222" stroke-width="0.1" textLength="30" lengthAdjust="spacingAndGlyphs">isotype Ab</text>
<line x1="341.7" y1="251.5" x2="418.5" y2="251.5" stroke="#1e1e1e" stroke-width="1.1"/>
<text x="379.7" y="259.8" font-size="7.4" fill="#161616" text-anchor="middle" stroke="#161616" stroke-width="0.16" textLength="10.6" lengthAdjust="spacingAndGlyphs">EBV</text>
<line x1="343" y1="193.5" x2="360" y2="193.5" stroke="#2a2a2a" stroke-width="1.0"/>
<line x1="346.5" y1="192.5" x2="356.5" y2="192.5" stroke="#2a2a2a" stroke-width="1.0"/>
<line x1="346.5" y1="195.5" x2="356.5" y2="195.5" stroke="#2a2a2a" stroke-width="1.0"/>
<line x1="351.5" y1="192" x2="351.5" y2="195.1" stroke="#2a2a2a" stroke-width="1.0"/>
<circle cx="345" cy="190.1" r="1.8" fill="#b0142c" stroke="none" stroke-width="0"/>
<circle cx="351.5" cy="188.6" r="1.8" fill="#b0142c" stroke="none" stroke-width="0"/>
<circle cx="357.5" cy="191.2" r="1.8" fill="#b0142c" stroke="none" stroke-width="0"/>
<circle cx="348" cy="194" r="1.8" fill="#b0142c" stroke="none" stroke-width="0"/>
<circle cx="354" cy="194" r="1.8" fill="#b0142c" stroke="none" stroke-width="0"/>
<circle cx="351.5" cy="200.3" r="1.8" fill="#b0142c" stroke="none" stroke-width="0"/>
<circle cx="348" cy="207" r="1.8" fill="#b0142c" stroke="none" stroke-width="0"/>
<circle cx="354" cy="208.1" r="1.8" fill="#b0142c" stroke="none" stroke-width="0"/>
<circle cx="351.5" cy="236.8" r="1.8" fill="#b0142c" stroke="none" stroke-width="0"/>
<line x1="370.7" y1="191.5" x2="387.7" y2="191.5" stroke="#2a2a2a" stroke-width="1.0"/>
<line x1="374.2" y1="189.5" x2="384.2" y2="189.5" stroke="#2a2a2a" stroke-width="1.0"/>
<line x1="374.2" y1="196.5" x2="384.2" y2="196.5" stroke="#2a2a2a" stroke-width="1.0"/>
<line x1="379.5" y1="189.7" x2="379.5" y2="196" stroke="#2a2a2a" stroke-width="1.0"/>
<rect x="375.35" y="184.15" width="3.3" height="3.3" fill="#62ad45" stroke="none" stroke-width="0"/>
<rect x="380.35" y="184.15" width="3.3" height="3.3" fill="#62ad45" stroke="none" stroke-width="0"/>
<rect x="375.35" y="193.95" width="3.3" height="3.3" fill="#62ad45" stroke="none" stroke-width="0"/>
<rect x="379.35" y="197.85" width="3.3" height="3.3" fill="#62ad45" stroke="none" stroke-width="0"/>
<rect x="372.35" y="203.65" width="3.3" height="3.3" fill="#62ad45" stroke="none" stroke-width="0"/>
<rect x="377.35" y="204.35" width="3.3" height="3.3" fill="#62ad45" stroke="none" stroke-width="0"/>
<rect x="382.35" y="203.65" width="3.3" height="3.3" fill="#62ad45" stroke="none" stroke-width="0"/>
<rect x="377.55" y="235.15" width="3.3" height="3.3" fill="#62ad45" stroke="none" stroke-width="0"/>
<line x1="398.9" y1="194.5" x2="415.9" y2="194.5" stroke="#2a2a2a" stroke-width="1.0"/>
<line x1="402.4" y1="192.5" x2="412.4" y2="192.5" stroke="#2a2a2a" stroke-width="1.0"/>
<line x1="402.4" y1="198.5" x2="412.4" y2="198.5" stroke="#2a2a2a" stroke-width="1.0"/>
<line x1="407.5" y1="192.3" x2="407.5" y2="198.8" stroke="#2a2a2a" stroke-width="1.0"/>
<path d="M405 189L406.8 190.8L405 192.6L403.2 190.8Z" fill="#5a2870"/>
<path d="M410 189L411.8 190.8L410 192.6L408.2 190.8Z" fill="#5a2870"/>
<path d="M407.4 200.7L409.2 202.5L407.4 204.3L405.6 202.5Z" fill="#5a2870"/>
<path d="M404 235L405.8 236.8L404 238.6L402.2 236.8Z" fill="#5a2870"/>
<path d="M410 235L411.8 236.8L410 238.6L408.2 236.8Z" fill="#5a2870"/>
<line x1="37.5" y1="305.3" x2="37.5" y2="383.8" stroke="#1e1e1e" stroke-width="1.3"/>
<line x1="33.9" y1="308.5" x2="37.5" y2="308.5" stroke="#1e1e1e" stroke-width="1.1"/>
<text x="22.7" y="312.1" font-size="6.6" fill="#555" textLength="5.9" lengthAdjust="spacingAndGlyphs">10</text>
<text x="28.9" y="309.4" font-size="3.8" fill="#888">7</text>
<line x1="35.7" y1="314.08" x2="37.8" y2="314.08" stroke="#1e1e1e" stroke-width="0.9"/>
<line x1="35.7" y1="311.71" x2="37.8" y2="311.71" stroke="#1e1e1e" stroke-width="0.9"/>
<line x1="33.9" y1="319.5" x2="37.5" y2="319.5" stroke="#1e1e1e" stroke-width="1.1"/>
<text x="22.7" y="322.77" font-size="6.6" fill="#555" textLength="5.9" lengthAdjust="spacingAndGlyphs">10</text>
<text x="28.9" y="320.07" font-size="3.8" fill="#888">6</text>
<line x1="35.7" y1="324.75" x2="37.8" y2="324.75" stroke="#1e1e1e" stroke-width="0.9"/>
<line x1="35.7" y1="322.38" x2="37.8" y2="322.38" stroke="#1e1e1e" stroke-width="0.9"/>
<line x1="33.9" y1="329.5" x2="37.5" y2="329.5" stroke="#1e1e1e" stroke-width="1.1"/>
<text x="22.7" y="333.44" font-size="6.6" fill="#555" textLength="5.9" lengthAdjust="spacingAndGlyphs">10</text>
<text x="28.9" y="330.74" font-size="3.8" fill="#888">5</text>
<line x1="35.7" y1="335.42" x2="37.8" y2="335.42" stroke="#1e1e1e" stroke-width="0.9"/>
<line x1="35.7" y1="333.06" x2="37.8" y2="333.06" stroke="#1e1e1e" stroke-width="0.9"/>
<line x1="33.9" y1="340.5" x2="37.5" y2="340.5" stroke="#1e1e1e" stroke-width="1.1"/>
<text x="22.7" y="344.11" font-size="6.6" fill="#555" textLength="5.9" lengthAdjust="spacingAndGlyphs">10</text>
<text x="28.9" y="341.41" font-size="3.8" fill="#888">4</text>
<line x1="35.7" y1="346.09" x2="37.8" y2="346.09" stroke="#1e1e1e" stroke-width="0.9"/>
<line x1="35.7" y1="343.73" x2="37.8" y2="343.73" stroke="#1e1e1e" stroke-width="0.9"/>
<line x1="33.9" y1="351.5" x2="37.5" y2="351.5" stroke="#1e1e1e" stroke-width="1.1"/>
<text x="22.7" y="354.79" font-size="6.6" fill="#555" textLength="5.9" lengthAdjust="spacingAndGlyphs">10</text>
<text x="28.9" y="352.09" font-size="3.8" fill="#888">3</text>
<line x1="35.7" y1="356.77" x2="37.8" y2="356.77" stroke="#1e1e1e" stroke-width="0.9"/>
<line x1="35.7" y1="354.4" x2="37.8" y2="354.4" stroke="#1e1e1e" stroke-width="0.9"/>
<line x1="33.9" y1="361.5" x2="37.5" y2="361.5" stroke="#1e1e1e" stroke-width="1.1"/>
<text x="22.7" y="365.46" font-size="6.6" fill="#555" textLength="5.9" lengthAdjust="spacingAndGlyphs">10</text>
<text x="28.9" y="362.76" font-size="3.8" fill="#888">2</text>
<line x1="35.7" y1="367.44" x2="37.8" y2="367.44" stroke="#1e1e1e" stroke-width="0.9"/>
<line x1="35.7" y1="365.07" x2="37.8" y2="365.07" stroke="#1e1e1e" stroke-width="0.9"/>
<line x1="33.9" y1="372.5" x2="37.5" y2="372.5" stroke="#1e1e1e" stroke-width="1.1"/>
<text x="22.7" y="376.13" font-size="6.6" fill="#555" textLength="5.9" lengthAdjust="spacingAndGlyphs">10</text>
<text x="28.9" y="373.43" font-size="3.8" fill="#888">1</text>
<line x1="35.7" y1="378.11" x2="37.8" y2="378.11" stroke="#1e1e1e" stroke-width="0.9"/>
<line x1="35.7" y1="375.74" x2="37.8" y2="375.74" stroke="#1e1e1e" stroke-width="0.9"/>
<line x1="33.9" y1="383.5" x2="37.5" y2="383.5" stroke="#1e1e1e" stroke-width="1.1"/>
<text x="22.7" y="386.8" font-size="6.6" fill="#555" textLength="5.9" lengthAdjust="spacingAndGlyphs">10</text>
<text x="28.9" y="384.1" font-size="3.8" fill="#888">0</text>
<line x1="36.85" y1="383.5" x2="150" y2="383.5" stroke="#1e1e1e" stroke-width="1.3"/>
<text x="14.6" y="344.2" font-size="9.2" fill="#161616" text-anchor="middle" stroke="#161616" stroke-width="0.16" textLength="92.5" lengthAdjust="spacingAndGlyphs" transform="rotate(-90 14.6 344.2)">EBV copy number per ml</text>
<line x1="51.5" y1="383.2" x2="51.5" y2="386.8" stroke="#1e1e1e" stroke-width="1.1"/>
<text x="54.5" y="392.6" font-size="6.3" fill="#4a4a4a" text-anchor="end" textLength="9" lengthAdjust="spacingAndGlyphs" transform="rotate(-45 54.5 392.6)">w2</text>
<line x1="72.5" y1="383.2" x2="72.5" y2="386.8" stroke="#1e1e1e" stroke-width="1.1"/>
<text x="75.7" y="392.6" font-size="6.3" fill="#4a4a4a" text-anchor="end" textLength="9" lengthAdjust="spacingAndGlyphs" transform="rotate(-45 75.7 392.6)">w3</text>
<line x1="93.5" y1="383.2" x2="93.5" y2="386.8" stroke="#1e1e1e" stroke-width="1.1"/>
<text x="96.9" y="392.6" font-size="6.3" fill="#4a4a4a" text-anchor="end" textLength="9" lengthAdjust="spacingAndGlyphs" transform="rotate(-45 96.9 392.6)">w4</text>
<line x1="114.5" y1="383.2" x2="114.5" y2="386.8" stroke="#1e1e1e" stroke-width="1.1"/>
<text x="118.1" y="392.6" font-size="6.3" fill="#4a4a4a" text-anchor="end" textLength="9" lengthAdjust="spacingAndGlyphs" transform="rotate(-45 118.1 392.6)">w5</text>
<line x1="136.5" y1="383.2" x2="136.5" y2="386.8" stroke="#1e1e1e" stroke-width="1.1"/>
<text x="139.3" y="392.6" font-size="6.3" fill="#4a4a4a" text-anchor="end" textLength="9" lengthAdjust="spacingAndGlyphs" transform="rotate(-45 139.3 392.6)">w6</text>
<polyline points="51.3,352.1 72.5,340.6 93.7,338.3 114.9,342.3 136.1,337.5" fill="none" stroke="#7a4b27" stroke-width="1.1"/>
<polyline points="51.3,355.6 72.5,347 93.7,338.3 114.9,340 136.1,338" fill="none" stroke="#5a2870" stroke-width="1.1"/>
<polyline points="51.3,358.7 72.5,344.8 93.7,338.3 114.9,338.8 136.1,336.5" fill="none" stroke="#62ad45" stroke-width="1.1"/>
<circle cx="51.3" cy="352.1" r="1.85" fill="#7a4b27" stroke="#4a2a10" stroke-width="0.4"/>
<circle cx="72.5" cy="340.6" r="1.85" fill="#7a4b27" stroke="#4a2a10" stroke-width="0.4"/>
<circle cx="93.7" cy="338.3" r="1.85" fill="#7a4b27" stroke="#4a2a10" stroke-width="0.4"/>
<circle cx="114.9" cy="342.3" r="1.85" fill="#7a4b27" stroke="#4a2a10" stroke-width="0.4"/>
<circle cx="136.1" cy="337.5" r="1.85" fill="#7a4b27" stroke="#4a2a10" stroke-width="0.4"/>
<path d="M51.3 354L52.9 355.6L51.3 357.2L49.7 355.6Z" fill="#5a2870"/>
<path d="M72.5 345.4L74.1 347L72.5 348.6L70.9 347Z" fill="#5a2870"/>
<path d="M93.7 336.7L95.3 338.3L93.7 339.9L92.1 338.3Z" fill="#5a2870"/>
<path d="M114.9 338.4L116.5 340L114.9 341.6L113.3 340Z" fill="#5a2870"/>
<path d="M136.1 336.4L137.7 338L136.1 339.6L134.5 338Z" fill="#5a2870"/>
<rect x="49.15" y="356.55" width="4.3" height="4.3" fill="#62ad45" stroke="none" stroke-width="0"/>
<rect x="70.35" y="342.65" width="4.3" height="4.3" fill="#62ad45" stroke="none" stroke-width="0"/>
<rect x="91.55" y="336.15" width="4.3" height="4.3" fill="#62ad45" stroke="none" stroke-width="0"/>
<rect x="112.75" y="336.65" width="4.3" height="4.3" fill="#62ad45" stroke="none" stroke-width="0"/>
<rect x="133.95" y="334.35" width="4.3" height="4.3" fill="#62ad45" stroke="none" stroke-width="0"/>
<line x1="51.3" y1="348.6" x2="51.3" y2="352.1" stroke="#222" stroke-width="0.9"/>
<line x1="51.3" y1="358.7" x2="51.3" y2="362.5" stroke="#222" stroke-width="0.9"/>
<line x1="49.2" y1="348.5" x2="53.4" y2="348.5" stroke="#222" stroke-width="1.0"/>
<line x1="49.2" y1="362.5" x2="53.4" y2="362.5" stroke="#222" stroke-width="1.0"/>
<line x1="72.5" y1="337.7" x2="72.5" y2="340.6" stroke="#222" stroke-width="0.9"/>
<line x1="72.5" y1="347" x2="72.5" y2="349.2" stroke="#222" stroke-width="0.9"/>
<line x1="70.4" y1="337.5" x2="74.6" y2="337.5" stroke="#222" stroke-width="1.0"/>
<line x1="70.4" y1="349.5" x2="74.6" y2="349.5" stroke="#222" stroke-width="1.0"/>
<line x1="114.9" y1="336.5" x2="114.9" y2="338.8" stroke="#222" stroke-width="0.9"/>
<line x1="114.9" y1="342.3" x2="114.9" y2="345.5" stroke="#222" stroke-width="0.9"/>
<line x1="112.8" y1="336.5" x2="117" y2="336.5" stroke="#222" stroke-width="1.0"/>
<line x1="112.8" y1="345.5" x2="117" y2="345.5" stroke="#222" stroke-width="1.0"/>
<line x1="136.1" y1="334" x2="136.1" y2="336.5" stroke="#222" stroke-width="0.9"/>
<line x1="136.1" y1="341.1" x2="136.1" y2="346.3" stroke="#222" stroke-width="0.9"/>
<line x1="134" y1="334.5" x2="138.2" y2="334.5" stroke="#222" stroke-width="1.0"/>
<line x1="134" y1="346.5" x2="138.2" y2="346.5" stroke="#222" stroke-width="1.0"/>
<line x1="93.2" y1="355.5" x2="102.4" y2="355.5" stroke="#7a4b27" stroke-width="1.1"/>
<circle cx="97.8" cy="355.5" r="1.85" fill="#7a4b27" stroke="#4a2a10" stroke-width="0.4"/>
<text x="105.5" y="357.5" font-size="5.8" fill="#4a4a4a" textLength="9" lengthAdjust="spacingAndGlyphs">EBV</text>
<line x1="93.2" y1="364.5" x2="102.4" y2="364.5" stroke="#62ad45" stroke-width="1.1"/>
<rect x="95.65" y="362.55" width="4.3" height="4.3" fill="#62ad45" stroke="none" stroke-width="0"/>
<text x="105.5" y="366.7" font-size="5.8" fill="#4a4a4a" textLength="36.7" lengthAdjust="spacingAndGlyphs">EBV+&#945;-CD303</text>
<line x1="93.2" y1="372.5" x2="102.4" y2="372.5" stroke="#5a2870" stroke-width="1.1"/>
<path d="M97.8 370.9L99.4 372.5L97.8 374.1L96.2 372.5Z" fill="#5a2870"/>
<text x="105.5" y="374.5" font-size="5.8" fill="#4a4a4a" textLength="41.3" lengthAdjust="spacingAndGlyphs">EBV+isotypeAb</text>
<line x1="193.5" y1="306" x2="193.5" y2="383.8" stroke="#1e1e1e" stroke-width="1.3"/>
<line x1="189.4" y1="308.5" x2="193" y2="308.5" stroke="#1e1e1e" stroke-width="1.1"/>
<text x="178.7" y="312.4" font-size="6.6" fill="#555" textLength="5.9" lengthAdjust="spacingAndGlyphs">10</text>
<text x="184.9" y="309.7" font-size="3.8" fill="#888">9</text>
<line x1="191.2" y1="313.12" x2="193.3" y2="313.12" stroke="#1e1e1e" stroke-width="0.9"/>
<line x1="191.2" y1="311.29" x2="193.3" y2="311.29" stroke="#1e1e1e" stroke-width="0.9"/>
<line x1="189.4" y1="317.5" x2="193" y2="317.5" stroke="#1e1e1e" stroke-width="1.1"/>
<text x="178.7" y="320.67" font-size="6.6" fill="#555" textLength="5.9" lengthAdjust="spacingAndGlyphs">10</text>
<text x="184.9" y="317.97" font-size="3.8" fill="#888">8</text>
<line x1="191.2" y1="321.39" x2="193.3" y2="321.39" stroke="#1e1e1e" stroke-width="0.9"/>
<line x1="191.2" y1="319.56" x2="193.3" y2="319.56" stroke="#1e1e1e" stroke-width="0.9"/>
<line x1="189.4" y1="325.5" x2="193" y2="325.5" stroke="#1e1e1e" stroke-width="1.1"/>
<text x="178.7" y="328.93" font-size="6.6" fill="#555" textLength="5.9" lengthAdjust="spacingAndGlyphs">10</text>
<text x="184.9" y="326.23" font-size="3.8" fill="#888">7</text>
<line x1="191.2" y1="329.66" x2="193.3" y2="329.66" stroke="#1e1e1e" stroke-width="0.9"/>
<line x1="191.2" y1="327.82" x2="193.3" y2="327.82" stroke="#1e1e1e" stroke-width="0.9"/>
<line x1="189.4" y1="333.5" x2="193" y2="333.5" stroke="#1e1e1e" stroke-width="1.1"/>
<text x="178.7" y="337.2" font-size="6.6" fill="#555" textLength="5.9" lengthAdjust="spacingAndGlyphs">10</text>
<text x="184.9" y="334.5" font-size="3.8" fill="#888">6</text>
<line x1="191.2" y1="337.92" x2="193.3" y2="337.92" stroke="#1e1e1e" stroke-width="0.9"/>
<line x1="191.2" y1="336.09" x2="193.3" y2="336.09" stroke="#1e1e1e" stroke-width="0.9"/>
<line x1="189.4" y1="341.5" x2="193" y2="341.5" stroke="#1e1e1e" stroke-width="1.1"/>
<text x="178.7" y="345.47" font-size="6.6" fill="#555" textLength="5.9" lengthAdjust="spacingAndGlyphs">10</text>
<text x="184.9" y="342.77" font-size="3.8" fill="#888">5</text>
<line x1="191.2" y1="346.19" x2="193.3" y2="346.19" stroke="#1e1e1e" stroke-width="0.9"/>
<line x1="191.2" y1="344.36" x2="193.3" y2="344.36" stroke="#1e1e1e" stroke-width="0.9"/>
<line x1="189.4" y1="350.5" x2="193" y2="350.5" stroke="#1e1e1e" stroke-width="1.1"/>
<text x="178.7" y="353.73" font-size="6.6" fill="#555" textLength="5.9" lengthAdjust="spacingAndGlyphs">10</text>
<text x="184.9" y="351.03" font-size="3.8" fill="#888">4</text>
<line x1="191.2" y1="354.46" x2="193.3" y2="354.46" stroke="#1e1e1e" stroke-width="0.9"/>
<line x1="191.2" y1="352.62" x2="193.3" y2="352.62" stroke="#1e1e1e" stroke-width="0.9"/>
<line x1="189.4" y1="358.5" x2="193" y2="358.5" stroke="#1e1e1e" stroke-width="1.1"/>
<text x="178.7" y="362" font-size="6.6" fill="#555" textLength="5.9" lengthAdjust="spacingAndGlyphs">10</text>
<text x="184.9" y="359.3" font-size="3.8" fill="#888">3</text>
<line x1="191.2" y1="362.72" x2="193.3" y2="362.72" stroke="#1e1e1e" stroke-width="0.9"/>
<line x1="191.2" y1="360.89" x2="193.3" y2="360.89" stroke="#1e1e1e" stroke-width="0.9"/>
<line x1="189.4" y1="366.5" x2="193" y2="366.5" stroke="#1e1e1e" stroke-width="1.1"/>
<text x="178.7" y="370.27" font-size="6.6" fill="#555" textLength="5.9" lengthAdjust="spacingAndGlyphs">10</text>
<text x="184.9" y="367.57" font-size="3.8" fill="#888">2</text>
<line x1="191.2" y1="370.99" x2="193.3" y2="370.99" stroke="#1e1e1e" stroke-width="0.9"/>
<line x1="191.2" y1="369.16" x2="193.3" y2="369.16" stroke="#1e1e1e" stroke-width="0.9"/>
<line x1="189.4" y1="374.5" x2="193" y2="374.5" stroke="#1e1e1e" stroke-width="1.1"/>
<text x="178.7" y="378.53" font-size="6.6" fill="#555" textLength="5.9" lengthAdjust="spacingAndGlyphs">10</text>
<text x="184.9" y="375.83" font-size="3.8" fill="#888">1</text>
<line x1="191.2" y1="379.26" x2="193.3" y2="379.26" stroke="#1e1e1e" stroke-width="0.9"/>
<line x1="191.2" y1="377.42" x2="193.3" y2="377.42" stroke="#1e1e1e" stroke-width="0.9"/>
<line x1="189.4" y1="383.5" x2="193" y2="383.5" stroke="#1e1e1e" stroke-width="1.1"/>
<text x="178.7" y="386.8" font-size="6.6" fill="#555" textLength="5.9" lengthAdjust="spacingAndGlyphs">10</text>
<text x="184.9" y="384.1" font-size="3.8" fill="#888">0</text>
<line x1="192.35" y1="383.5" x2="295.4" y2="383.5" stroke="#1e1e1e" stroke-width="1.3"/>
<text x="243.5" y="301.1" font-size="9" fill="#161616" text-anchor="middle" stroke="#161616" stroke-width="0.16" textLength="60" lengthAdjust="spacingAndGlyphs">week 5/6 spleen</text>
<text x="169.2" y="340.7" font-size="9.2" fill="#161616" text-anchor="middle" stroke="#161616" stroke-width="0.16" textLength="76" lengthAdjust="spacingAndGlyphs" transform="rotate(-90 169.2 340.7)">EBV copies per spleen</text>
<text x="207.8" y="392.7" font-size="7.2" fill="#222" text-anchor="middle" stroke="#222" stroke-width="0.1" textLength="10.5" lengthAdjust="spacingAndGlyphs">PBS</text>
<text x="240" y="392.7" font-size="7.2" fill="#222" text-anchor="middle" stroke="#222" stroke-width="0.1" textLength="26" lengthAdjust="spacingAndGlyphs">&#945;-CD303</text>
<text x="275.8" y="392.7" font-size="7.2" fill="#222" text-anchor="middle" stroke="#222" stroke-width="0.1" textLength="30.7" lengthAdjust="spacingAndGlyphs">isotype Ab</text>
<line x1="198" y1="396.5" x2="287.3" y2="396.5" stroke="#1e1e1e" stroke-width="1.1"/>
<text x="241.4" y="403.8" font-size="7.4" fill="#161616" text-anchor="middle" stroke="#161616" stroke-width="0.16" textLength="10.9" lengthAdjust="spacingAndGlyphs">EBV</text>
<line x1="196.8" y1="333.5" x2="219.8" y2="333.5" stroke="#2a2a2a" stroke-width="1.0"/>
<line x1="202.3" y1="332.5" x2="214.3" y2="332.5" stroke="#2a2a2a" stroke-width="1.0"/>
<line x1="202.3" y1="336.5" x2="214.3" y2="336.5" stroke="#2a2a2a" stroke-width="1.0"/>
<line x1="208.5" y1="332" x2="208.5" y2="336" stroke="#2a2a2a" stroke-width="1.0"/>
<circle cx="200.5" cy="329.4" r="1.8" fill="#b0142c" stroke="none" stroke-width="0"/>
<circle cx="214.5" cy="330.2" r="1.8" fill="#b0142c" stroke="none" stroke-width="0"/>
<circle cx="208.3" cy="334.3" r="1.8" fill="#b0142c" stroke="none" stroke-width="0"/>
<circle cx="201" cy="336.6" r="1.8" fill="#b0142c" stroke="none" stroke-width="0"/>
<circle cx="214.5" cy="336.6" r="1.8" fill="#b0142c" stroke="none" stroke-width="0"/>
<circle cx="204.5" cy="339.9" r="1.8" fill="#b0142c" stroke="none" stroke-width="0"/>
<circle cx="212.5" cy="339.9" r="1.8" fill="#b0142c" stroke="none" stroke-width="0"/>
<circle cx="207.5" cy="348.8" r="1.8" fill="#b0142c" stroke="none" stroke-width="0"/>
<circle cx="202" cy="351.5" r="1.8" fill="#b0142c" stroke="none" stroke-width="0"/>
<line x1="232.2" y1="325.5" x2="255.2" y2="325.5" stroke="#2a2a2a" stroke-width="1.0"/>
<line x1="237.7" y1="322.5" x2="249.7" y2="322.5" stroke="#2a2a2a" stroke-width="1.0"/>
<line x1="237.7" y1="328.5" x2="249.7" y2="328.5" stroke="#2a2a2a" stroke-width="1.0"/>
<line x1="243.5" y1="322.7" x2="243.5" y2="328.2" stroke="#2a2a2a" stroke-width="1.0"/>
<rect x="245.35" y="316.05" width="3.3" height="3.3" fill="#62ad45" stroke="none" stroke-width="0"/>
<rect x="242.05" y="329.95" width="3.3" height="3.3" fill="#62ad45" stroke="none" stroke-width="0"/>
<rect x="235.35" y="334.05" width="3.3" height="3.3" fill="#62ad45" stroke="none" stroke-width="0"/>
<rect x="241.35" y="334.35" width="3.3" height="3.3" fill="#62ad45" stroke="none" stroke-width="0"/>
<rect x="248.35" y="334.05" width="3.3" height="3.3" fill="#62ad45" stroke="none" stroke-width="0"/>
<rect x="242.35" y="339.65" width="3.3" height="3.3" fill="#62ad45" stroke="none" stroke-width="0"/>
<rect x="238.35" y="345.75" width="3.3" height="3.3" fill="#62ad45" stroke="none" stroke-width="0"/>
<rect x="245.35" y="342.35" width="3.3" height="3.3" fill="#62ad45" stroke="none" stroke-width="0"/>
<line x1="266.6" y1="327.5" x2="289.6" y2="327.5" stroke="#2a2a2a" stroke-width="1.0"/>
<line x1="272.1" y1="325.5" x2="284.1" y2="325.5" stroke="#2a2a2a" stroke-width="1.0"/>
<line x1="272.1" y1="332.5" x2="284.1" y2="332.5" stroke="#2a2a2a" stroke-width="1.0"/>
<line x1="278.5" y1="325.5" x2="278.5" y2="332.1" stroke="#2a2a2a" stroke-width="1.0"/>
<path d="M278.1 320.9L279.9 322.7L278.1 324.5L276.3 322.7Z" fill="#5a2870"/>
<path d="M278.1 329.2L279.9 331L278.1 332.8L276.3 331Z" fill="#5a2870"/>
<path d="M278.1 336.7L279.9 338.5L278.1 340.3L276.3 338.5Z" fill="#5a2870"/>
<path d="M278.1 342.2L279.9 344L278.1 345.8L276.3 344Z" fill="#5a2870"/>
<path d="M278.1 354.7L279.9 356.5L278.1 358.3L276.3 356.5Z" fill="#5a2870"/>
<text x="317.4" y="284.9" font-size="11" fill="#161616" text-anchor="start">H</text>
<line x1="346.5" y1="305.9" x2="346.5" y2="383.8" stroke="#1e1e1e" stroke-width="1.3"/>
<line x1="345.75" y1="383.5" x2="512" y2="383.5" stroke="#1e1e1e" stroke-width="1.3"/>
<line x1="343.1" y1="308.5" x2="346.4" y2="308.5" stroke="#1e1e1e" stroke-width="1.1"/>
<text x="339.8" y="310.9" font-size="6.3" fill="#161616" text-anchor="end" stroke="#161616" stroke-width="0.12" textLength="8.4" lengthAdjust="spacingAndGlyphs">0.5</text>
<line x1="343.1" y1="323.5" x2="346.4" y2="323.5" stroke="#1e1e1e" stroke-width="1.1"/>
<text x="339.8" y="325.84" font-size="6.3" fill="#161616" text-anchor="end" stroke="#161616" stroke-width="0.12" textLength="8.4" lengthAdjust="spacingAndGlyphs">0.4</text>
<line x1="343.1" y1="338.5" x2="346.4" y2="338.5" stroke="#1e1e1e" stroke-width="1.1"/>
<text x="339.8" y="340.78" font-size="6.3" fill="#161616" text-anchor="end" stroke="#161616" stroke-width="0.12" textLength="8.4" lengthAdjust="spacingAndGlyphs">0.3</text>
<line x1="343.1" y1="353.5" x2="346.4" y2="353.5" stroke="#1e1e1e" stroke-width="1.1"/>
<text x="339.8" y="355.72" font-size="6.3" fill="#161616" text-anchor="end" stroke="#161616" stroke-width="0.12" textLength="8.4" lengthAdjust="spacingAndGlyphs">0.2</text>
<line x1="343.1" y1="368.5" x2="346.4" y2="368.5" stroke="#1e1e1e" stroke-width="1.1"/>
<text x="339.8" y="370.66" font-size="6.3" fill="#161616" text-anchor="end" stroke="#161616" stroke-width="0.12" textLength="8.4" lengthAdjust="spacingAndGlyphs">0.1</text>
<line x1="343.1" y1="383.5" x2="346.4" y2="383.5" stroke="#1e1e1e" stroke-width="1.1"/>
<text x="339.8" y="385.6" font-size="6.3" fill="#161616" text-anchor="end" stroke="#161616" stroke-width="0.12" textLength="8.4" lengthAdjust="spacingAndGlyphs">0.0</text>
<text x="429.6" y="299.1" font-size="9" fill="#161616" text-anchor="middle" stroke="#161616" stroke-width="0.16" textLength="65.4" lengthAdjust="spacingAndGlyphs">spleen weight (g)</text>
<text x="325.2" y="344.8" font-size="9.4" fill="#161616" text-anchor="middle" stroke="#161616" stroke-width="0.16" textLength="66" lengthAdjust="spacingAndGlyphs" transform="rotate(-90 325.2 344.8)">Spleen weight (g)</text>
<text x="364" y="391.8" font-size="7.2" fill="#222" text-anchor="middle" stroke="#222" stroke-width="0.1" textLength="10.5" lengthAdjust="spacingAndGlyphs">PBS</text>
<text x="396.5" y="391.8" font-size="7.2" fill="#222" text-anchor="middle" stroke="#222" stroke-width="0.1" textLength="25" lengthAdjust="spacingAndGlyphs">&#945;-CD303</text>
<text x="427.5" y="391.8" font-size="7.2" fill="#222" text-anchor="middle" stroke="#222" stroke-width="0.1" textLength="10.5" lengthAdjust="spacingAndGlyphs">PBS</text>
<text x="460" y="391.8" font-size="7.2" fill="#222" text-anchor="middle" stroke="#222" stroke-width="0.1" textLength="26" lengthAdjust="spacingAndGlyphs">&#945;-CD303</text>
<text x="495.7" y="391.8" font-size="7.2" fill="#222" text-anchor="middle" stroke="#222" stroke-width="0.1" textLength="29.6" lengthAdjust="spacingAndGlyphs">isotype Ab</text>
<line x1="420.2" y1="396.5" x2="509.9" y2="396.5" stroke="#1e1e1e" stroke-width="1.1"/>
<text x="463" y="405.6" font-size="7.4" fill="#161616" text-anchor="middle" stroke="#161616" stroke-width="0.16" textLength="11" lengthAdjust="spacingAndGlyphs">EBV</text>
<circle cx="363" cy="354.3" r="1.55" fill="white" stroke="#555555" stroke-width="0.85"/>
<circle cx="360" cy="364.9" r="1.55" fill="white" stroke="#555555" stroke-width="0.85"/>
<circle cx="366" cy="364.9" r="1.55" fill="white" stroke="#555555" stroke-width="0.85"/>
<circle cx="360" cy="382.3" r="1.55" fill="white" stroke="#555555" stroke-width="0.85"/>
<circle cx="365.5" cy="381.3" r="1.55" fill="white" stroke="#555555" stroke-width="0.85"/>
<line x1="351.75" y1="370.5" x2="374.25" y2="370.5" stroke="#2a2a2a" stroke-width="1.0"/>
<line x1="357.5" y1="364.5" x2="368.5" y2="364.5" stroke="#2a2a2a" stroke-width="1.0"/>
<line x1="357.5" y1="375.5" x2="368.5" y2="375.5" stroke="#2a2a2a" stroke-width="1.0"/>
<line x1="363.5" y1="364.1" x2="363.5" y2="375.2" stroke="#2a2a2a" stroke-width="1.0"/>
<circle cx="363" cy="366" r="1.7" fill="#666" stroke="none" stroke-width="0"/>
<line x1="385.15" y1="361.5" x2="407.65" y2="361.5" stroke="#2a2a2a" stroke-width="1.0"/>
<line x1="390.9" y1="358.5" x2="401.9" y2="358.5" stroke="#2a2a2a" stroke-width="1.0"/>
<line x1="390.9" y1="364.5" x2="401.9" y2="364.5" stroke="#2a2a2a" stroke-width="1.0"/>
<line x1="396.5" y1="358.3" x2="396.5" y2="364.6" stroke="#2a2a2a" stroke-width="1.0"/>
<rect x="395" y="351.3" width="2.8" height="2.8" fill="white" stroke="#3f6b9c" stroke-width="0.9"/>
<rect x="390.6" y="356.6" width="2.8" height="2.8" fill="white" stroke="#3f6b9c" stroke-width="0.9"/>
<rect x="397.6" y="356.6" width="2.8" height="2.8" fill="white" stroke="#3f6b9c" stroke-width="0.9"/>
<rect x="401.6" y="360.6" width="2.8" height="2.8" fill="white" stroke="#3f6b9c" stroke-width="0.9"/>
<rect x="390.6" y="367.2" width="2.8" height="2.8" fill="white" stroke="#3f6b9c" stroke-width="0.9"/>
<rect x="397.6" y="364.8" width="2.8" height="2.8" fill="white" stroke="#3f6b9c" stroke-width="0.9"/>
<line x1="417.85" y1="363.5" x2="440.35" y2="363.5" stroke="#2a2a2a" stroke-width="1.0"/>
<line x1="423.6" y1="356.5" x2="434.6" y2="356.5" stroke="#2a2a2a" stroke-width="1.0"/>
<line x1="423.6" y1="370.5" x2="434.6" y2="370.5" stroke="#2a2a2a" stroke-width="1.0"/>
<line x1="429.5" y1="356" x2="429.5" y2="370.5" stroke="#2a2a2a" stroke-width="1.0"/>
<circle cx="427" cy="334.3" r="1.8" fill="#b0142c" stroke="none" stroke-width="0"/>
<circle cx="431.5" cy="335.8" r="1.8" fill="#b0142c" stroke="none" stroke-width="0"/>
<circle cx="429.1" cy="347.7" r="1.8" fill="#b0142c" stroke="none" stroke-width="0"/>
<circle cx="429.1" cy="369" r="1.8" fill="#b0142c" stroke="none" stroke-width="0"/>
<circle cx="422.5" cy="379.2" r="1.8" fill="#b0142c" stroke="none" stroke-width="0"/>
<circle cx="435.5" cy="379.2" r="1.8" fill="#b0142c" stroke="none" stroke-width="0"/>
<circle cx="426.5" cy="382" r="1.8" fill="#b0142c" stroke="none" stroke-width="0"/>
<circle cx="432" cy="382" r="1.8" fill="#b0142c" stroke="none" stroke-width="0"/>
<line x1="451.05" y1="362.5" x2="473.55" y2="362.5" stroke="#2a2a2a" stroke-width="1.0"/>
<line x1="456.8" y1="354.5" x2="467.8" y2="354.5" stroke="#2a2a2a" stroke-width="1.0"/>
<line x1="456.8" y1="370.5" x2="467.8" y2="370.5" stroke="#2a2a2a" stroke-width="1.0"/>
<line x1="462.5" y1="354.7" x2="462.5" y2="370.5" stroke="#2a2a2a" stroke-width="1.0"/>
<rect x="460.65" y="324.85" width="3.3" height="3.3" fill="#62ad45" stroke="none" stroke-width="0"/>
<rect x="460.65" y="334.75" width="3.3" height="3.3" fill="#62ad45" stroke="none" stroke-width="0"/>
<rect x="457.35" y="352.15" width="3.3" height="3.3" fill="#62ad45" stroke="none" stroke-width="0"/>
<rect x="463.85" y="355.15" width="3.3" height="3.3" fill="#62ad45" stroke="none" stroke-width="0"/>
<rect x="453.85" y="379.65" width="3.3" height="3.3" fill="#62ad45" stroke="none" stroke-width="0"/>
<rect x="458.35" y="379.85" width="3.3" height="3.3" fill="#62ad45" stroke="none" stroke-width="0"/>
<rect x="463.35" y="379.85" width="3.3" height="3.3" fill="#62ad45" stroke="none" stroke-width="0"/>
<rect x="467.85" y="379.35" width="3.3" height="3.3" fill="#62ad45" stroke="none" stroke-width="0"/>
<line x1="484.05" y1="347.5" x2="506.55" y2="347.5" stroke="#2a2a2a" stroke-width="1.0"/>
<line x1="489.8" y1="340.5" x2="500.8" y2="340.5" stroke="#2a2a2a" stroke-width="1.0"/>
<line x1="489.8" y1="354.5" x2="500.8" y2="354.5" stroke="#2a2a2a" stroke-width="1.0"/>
<line x1="495.5" y1="340.6" x2="495.5" y2="354.9" stroke="#2a2a2a" stroke-width="1.0"/>
<path d="M495.3 322.1L497.1 323.9L495.3 325.7L493.5 323.9Z" fill="#5a2870"/>
<path d="M495.3 337.2L497.1 339L495.3 340.8L493.5 339Z" fill="#5a2870"/>
<path d="M495.3 350.9L497.1 352.7L495.3 354.5L493.5 352.7Z" fill="#5a2870"/>
<path d="M497.5 357.2L499.3 359L497.5 360.8L495.7 359Z" fill="#5a2870"/>
<path d="M492 361.5L493.8 363.3L492 365.1L490.2 363.3Z" fill="#5a2870"/>
<rect x="0" y="0" width="520" height="1.2" fill="#111"/>
<rect x="0" y="0" width="1.8" height="415" fill="#555"/>
<rect x="518" y="0" width="2" height="415" fill="#666"/>
<rect x="0" y="413" width="520" height="2" fill="#444"/>
</svg>
</body></html>
